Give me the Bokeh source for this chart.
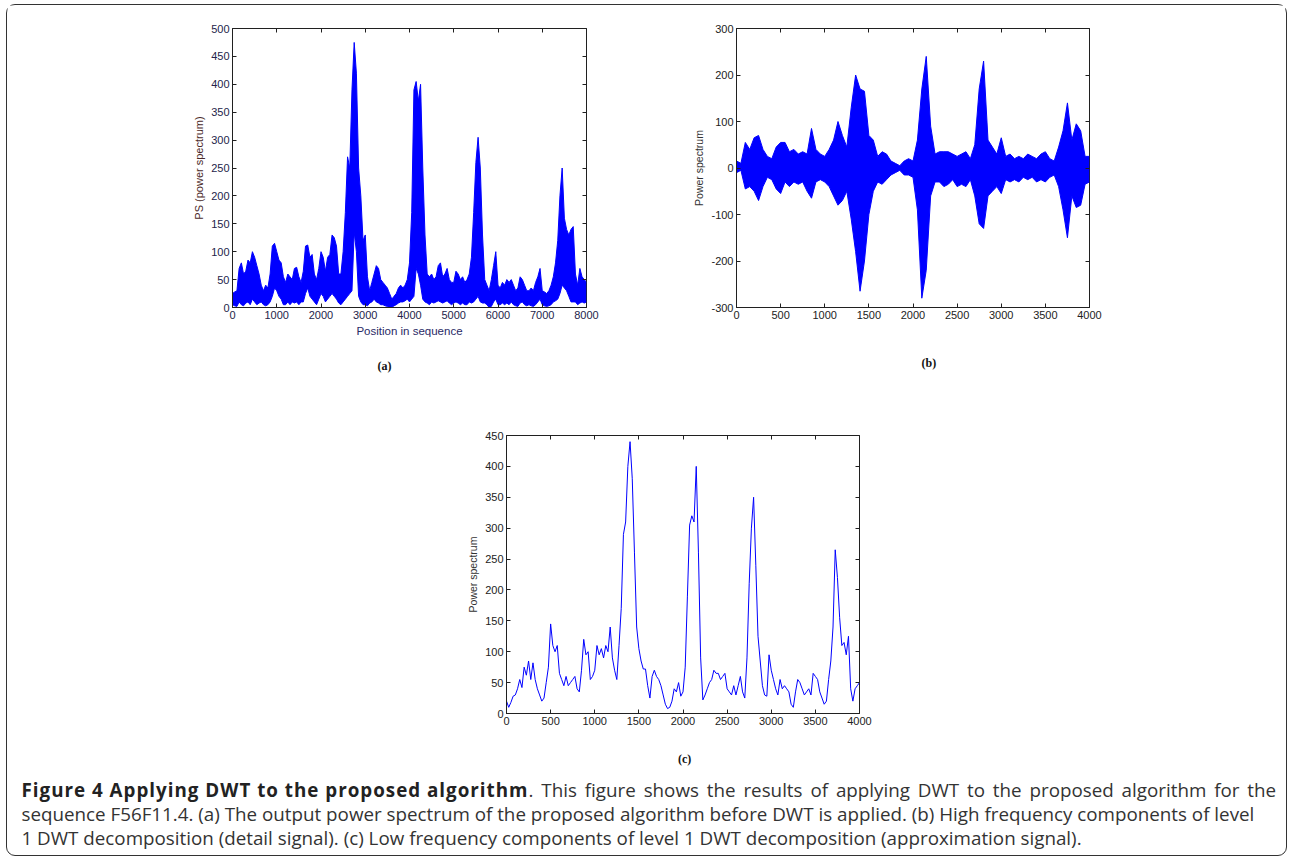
from bokeh.plotting import figure
from bokeh.models import Range1d, FixedTicker, LinearAxis, Title, Div, NumeralTickFormatter
from bokeh.layouts import column, row
from bokeh.embed import file_html
from bokeh.resources import INLINE

# ---------------- data: panel (a) power spectrum before DWT (envelopes, step 50) ----------------
a_pos = list(range(0, 8001, 50))
a_upper = [25, 28, 30, 70, 80, 60, 65, 85, 80, 100,
           90, 75, 60, 40, 30, 40, 35, 60, 110, 115,
           100, 85, 80, 55, 45, 60, 55, 50, 70, 72,
           55, 45, 65, 110, 112, 90, 95, 60, 50, 70,
           100, 90, 65, 90, 95, 130, 125, 110, 60, 60,
           100, 170, 270, 250, 390, 475, 420, 250, 200, 120,
           130, 55, 30, 45, 60, 75, 70, 50, 45, 40,
           35, 25, 15, 20, 25, 35, 40, 35, 40, 50,
           80, 170, 390, 405, 370, 400, 250, 130, 60, 55,
           60, 50, 55, 75, 80, 55, 60, 70, 50, 45,
           45, 65, 60, 50, 55, 45, 50, 60, 90, 170,
           260, 305, 250, 130, 50, 40, 30, 50, 75, 100,
           40, 35, 45, 40, 50, 45, 50, 40, 30, 35,
           55, 50, 40, 30, 30, 35, 30, 45, 55, 70,
           30, 28, 25, 30, 40, 55, 80, 120, 200, 250,
           160, 140, 130, 140, 145, 60, 40, 70, 55, 50,
           45]
a_lower = [5, 3, 2, 10, 5, 3, 8, 10, 5, 15,
           10, 5, 8, 10, 5, 3, 5, 10, 20, 35,
           30, 20, 15, 5, 5, 10, 5, 10, 8, 10,
           5, 10, 10, 25, 35, 20, 15, 10, 5, 15,
           25, 20, 10, 15, 20, 25, 20, 15, 8, 5,
           10, 15, 20, 25, 30, 135, 100, 20, 10, 5,
           5, 3, 8, 10, 15, 10, 8, 5, 5, 3,
           2, 0, 0, 3, 5, 8, 10, 10, 12, 15,
           10, 15, 20, 70, 60, 40, 15, 10, 8, 5,
           10, 8, 10, 12, 10, 8, 10, 12, 8, 5,
           8, 10, 8, 5, 8, 5, 5, 10, 8, 10,
           15, 20, 10, 8, 8, 5, 0, 2, 10, 15,
           5, 5, 8, 5, 8, 5, 10, 5, 3, 2,
           8, 10, 5, 3, 5, 3, 2, 5, 10, 15,
           5, 3, 2, 3, 5, 10, 12, 15, 25, 40,
           35, 30, 20, 10, 10, 10, 5, 8, 10, 8,
           10]
a_xticks = [0, 1000, 2000, 3000, 4000, 5000, 6000, 7000, 8000]
a_yticks = [0, 50, 100, 150, 200, 250, 300, 350, 400, 450, 500]

# ---------------- data: panel (b) detail signal (envelopes, step 50) ----------------
b_pos = list(range(0, 4001, 50))
b_upper = [15, 10, 55, 40, 65, 70, 40, 25, 20, 45,
           55, 55, 35, 40, 30, 35, 30, 85, 40, 30,
           25, 40, 60, 100, 70, 45, 130, 200, 170, 165,
           70, 60, 25, 35, 30, 15, 10, 5, 15, 20,
           15, 60, 170, 240, 90, 30, 35, 35, 35, 30,
           25, 30, 35, 20, 50, 170, 230, 60, 45, 30,
           65, 25, 30, 20, 25, 20, 30, 25, 20, 30,
           35, 20, 15, 45, 80, 140, 60, 95, 80, 25,
           25]
b_lower = [-10, -5, -45, -40, -50, -70, -40, -20, -25, -45,
           -55, -30, -40, -30, -35, -30, -50, -65, -30, -25,
           -30, -40, -60, -80, -70, -50, -110, -180, -265, -200,
           -100, -50, -30, -35, -25, -15, -10, -5, -15, -15,
           -20, -90, -280, -220, -60, -30, -30, -40, -35, -25,
           -40, -35, -40, -25, -60, -120, -130, -60, -50, -40,
           -55, -25, -30, -25, -30, -20, -25, -20, -30, -25,
           -30, -20, -15, -40, -90, -150, -60, -85, -80, -35,
           -30]
b_xticks = [0, 500, 1000, 1500, 2000, 2500, 3000, 3500, 4000]
b_yticks = [-300, -200, -100, 0, 100, 200, 300]

# ---------------- data: panel (c) approximation signal (step 25) ----------------
c_pos = list(range(0, 4001, 25))
c_vals = [20, 10, 18, 28, 30, 40, 55, 42, 75, 62,
          85, 55, 82, 55, 40, 30, 20, 25, 50, 75,
          145, 110, 100, 110, 65, 55, 45, 60, 45, 50,
          55, 60, 40, 35, 70, 120, 95, 100, 55, 60,
          70, 110, 95, 105, 90, 110, 100, 140, 90, 70,
          55, 110, 170, 290, 310, 400, 440, 380, 260, 140,
          105, 85, 72, 72, 45, 25, 60, 70, 60, 55,
          45, 30, 15, 8, 10, 20, 40, 35, 50, 28,
          35, 75, 190, 305, 320, 310, 400, 260, 90, 22,
          30, 40, 50, 55, 70, 65, 65, 55, 60, 65,
          40, 35, 30, 45, 30, 45, 60, 35, 25, 90,
          210, 300, 350, 240, 125, 85, 45, 30, 28, 95,
          70, 55, 40, 30, 55, 40, 45, 40, 35, 15,
          10, 35, 55, 50, 40, 30, 35, 40, 30, 65,
          60, 55, 35, 25, 15, 20, 55, 85, 140, 265,
          220, 155, 110, 115, 95, 125, 40, 20, 40, 45,
          50]
c_xticks = [0, 500, 1000, 1500, 2000, 2500, 3000, 3500, 4000]
c_yticks = [0, 50, 100, 150, 200, 250, 300, 350, 400, 450]

BLUE = "#0000ff"
TICKFONT = "Liberation Sans"


def style_axes(p, xticks, yticks, tick_color, xlabel=None, xlabel_color="#333",
               ylabel=None, ylabel_color="#333", ylabel_size="10.5px"):
    xb = p.below[0]
    yl = p.left[0]
    xb.ticker = FixedTicker(ticks=xticks)
    yl.ticker = FixedTicker(ticks=yticks)
    yl.formatter = NumeralTickFormatter(format="0")
    xb.formatter = NumeralTickFormatter(format="0")
    for ax in (xb, yl):
        ax.major_tick_in = 4
        ax.major_tick_out = 0
        ax.minor_tick_line_color = None
        ax.major_tick_line_color = "#202020"
        ax.axis_line_color = "#202020"
        ax.major_label_text_font = TICKFONT
        ax.major_label_text_font_size = "11px"
        ax.major_label_text_color = tick_color
        ax.major_label_standoff = 3
        ax.axis_label_text_font = TICKFONT
        ax.axis_label_text_font_style = "normal"
        ax.axis_label_standoff = 3
    if xlabel:
        xb.axis_label = xlabel
        xb.axis_label_text_color = xlabel_color
        xb.axis_label_text_font_size = "11.5px"
    if ylabel:
        yl.axis_label = ylabel
        yl.axis_label_text_color = ylabel_color
        yl.axis_label_text_font_size = ylabel_size
    # box ticks on top and right, no labels
    top = LinearAxis(ticker=FixedTicker(ticks=xticks), major_tick_in=4, major_tick_out=0,
                     minor_tick_line_color=None, major_label_text_color=None,
                     axis_line_color=None, major_tick_line_color="#202020")
    right = LinearAxis(ticker=FixedTicker(ticks=yticks), major_tick_in=4, major_tick_out=0,
                       minor_tick_line_color=None, major_label_text_color=None,
                       axis_line_color=None, major_tick_line_color="#202020")
    p.add_layout(top, "above")
    p.add_layout(right, "right")
    p.xgrid.visible = False
    p.ygrid.visible = False
    p.outline_line_color = "#202020"
    p.outline_line_width = 1


def base(xr, yr, fw, fh, l, r, t, b):
    return figure(x_range=Range1d(*xr), y_range=Range1d(*yr),
                  frame_width=fw, frame_height=fh,
                  min_border_left=l, min_border_right=r,
                  min_border_top=t, min_border_bottom=b,
                  output_backend="svg", toolbar_location=None,
                  background_fill_color="white", border_fill_color="white")


def sub_title(txt, off, standoff):
    return Title(text=txt, align="left", offset=off, standoff=standoff,
                 text_font="Liberation Serif", text_font_style="bold",
                 text_font_size="12px", text_color="#111")


# ---- (a)
pa = base((0, 8000), (0, 500), 354, 279, 225, 58, 22, 96)
pa.varea(x=a_pos, y1=a_lower, y2=a_upper, fill_color=BLUE)
pa.line(a_pos, a_upper, line_color=BLUE, line_width=1)
pa.line(a_pos, a_lower, line_color=BLUE, line_width=1)
style_axes(pa, a_xticks, a_yticks, "#24244a",
           xlabel="Position in sequence", xlabel_color="#2a2a66",
           ylabel="PS (power spectrum)", ylabel_color="#4a2828", ylabel_size="11px")
pa.add_layout(sub_title("(a)", 145, 35), "below")

# ---- (b)
pb = base((0, 4000), (-300, 300), 353, 279, 92, 196, 23, 95)
pb.varea(x=b_pos, y1=b_lower, y2=b_upper, fill_color=BLUE)
pb.line(b_pos, b_upper, line_color=BLUE, line_width=1)
pb.line(b_pos, b_lower, line_color=BLUE, line_width=1)
style_axes(pb, b_xticks, b_yticks, "#222222", ylabel="Power spectrum")
pb.add_layout(sub_title("(b)", 185, 64), "below")

# ---- (c)
pc = base((0, 4000), (0, 450), 353, 278, 499, 426, 33, 25)
pc.line(c_pos, c_vals, line_color=BLUE, line_width=1)
style_axes(pc, c_xticks, c_yticks, "#222222", ylabel="Power spectrum")

# ---- caption block (sub-label (c) sits just below panel (c))
caption_bold = "Figure 4 Applying DWT to the proposed algorithm"
caption_lines = [
    ". This figure shows the results of applying DWT to the proposed algorithm for the",
    "sequence F56F11.4. (a) The output power spectrum of the proposed algorithm before DWT is applied. (b) High frequency components of level",
    "1 DWT decomposition (detail signal). (c) Low frequency components of level 1 DWT decomposition (approximation signal).",
]
cap_html = ('<div style="margin:14px 0 0 671px;height:14px;line-height:14px;'
            'font-family:\'Liberation Serif\';font-weight:bold;font-size:12px;color:#111;">(c)</div>'
            '<div style="margin-top:12px;font-family:\'Open Sans\';font-size:18.8px;line-height:24px;color:#333;'
            'white-space:nowrap;padding-left:14.5px;">'
            '<b style="color:#222;letter-spacing:1px">' + caption_bold + '</b>'
            '<span style="word-spacing:3px">' + caption_lines[0] + '</span><br>'
            + caption_lines[1] + '<br>' + caption_lines[2] + '</div>')
cap = Div(text=cap_html, width=1278, height=117, margin=(0, 0, 0, 0))

root = column(row(pa, pb), pc, cap, width=1281,
              margin=(4, 2, 5, 6),
              styles={"border": "1.5px solid #333", "border-radius": "9px"})

open("out.html", "w").write(file_html(root, INLINE))
